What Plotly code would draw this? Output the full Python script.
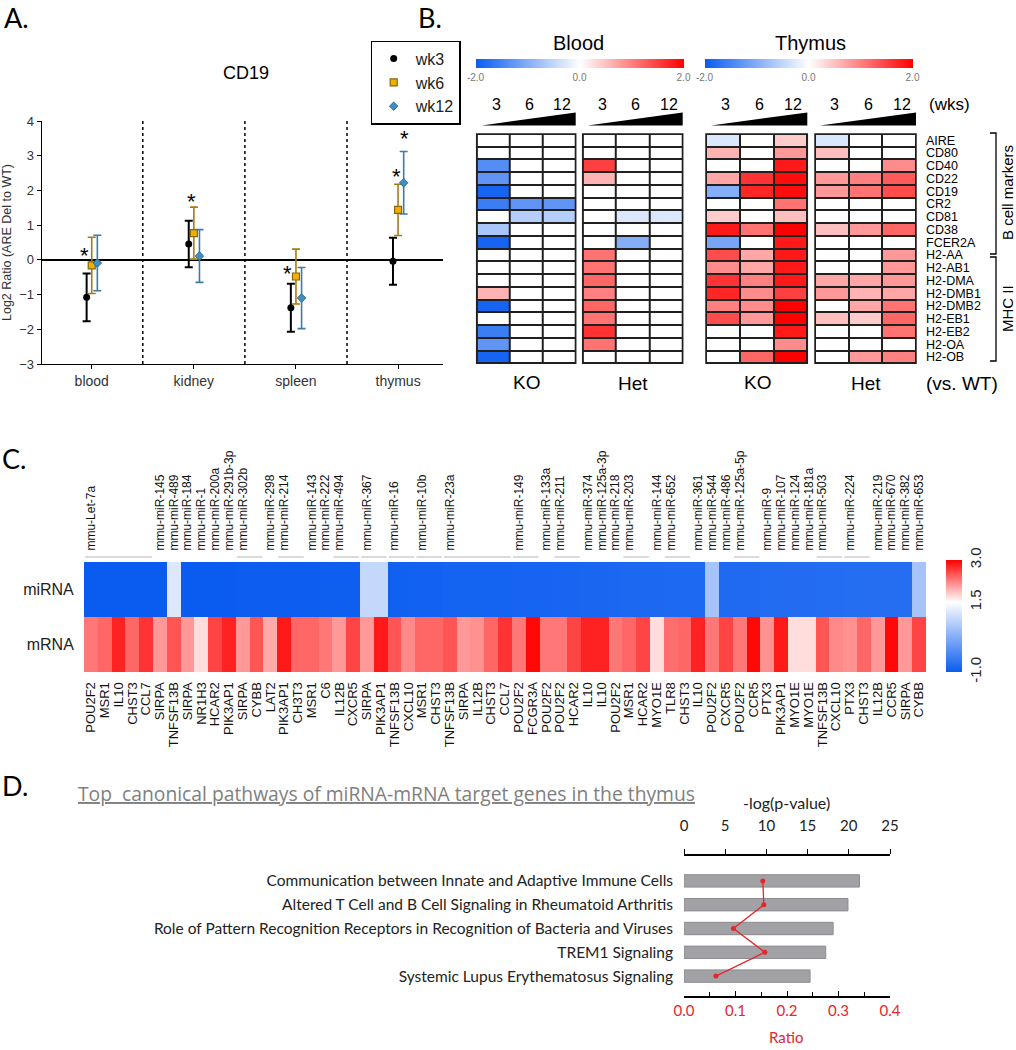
import plotly.graph_objects as go

W, H = 1016, 1050
def fx(p): return p / W
def fy(p): return 1 - p / H

# ---------------- Panel A data ----------------
organs = ["blood", "kidney", "spleen", "thymus"]
wk3_mean = [-1.08, 0.46, -1.38, -0.04]
wk3_err = [0.69, 0.67, 0.69, 0.68]
wk6_mean = [-0.16, 0.77, -0.48, 1.44]
wk6_err = [0.81, 0.75, 0.79, 0.74]
wk12_mean = [-0.09, 0.11, -1.10, 2.22]
wk12_err = [0.80, 0.76, 0.88, 0.90]
star_organ = [0, 1, 2, 3, 3]
star_dx = [-0.07, -0.02, -0.08, -0.02, 0.06]
star_y = [0.28, 1.83, -0.25, 2.55, 3.65]

# ---------------- Panel B data ----------------
genes = ["AIRE", "CD80", "CD40", "CD22", "CD19", "CR2", "CD81", "CD38", "FCER2A",
         "H2-AA", "H2-AB1", "H2-DMA", "H2-DMB1", "H2-DMB2", "H2-EB1", "H2-EB2", "H2-OA", "H2-OB"]
weeks = ["3", "6", "12"]
blood_ko = [[0, 0, 0], [0, 0, 0], [-1.4, 0, 0], [-1.3, 0, 0], [-1.9, 0, 0], [-1.6, -1.3, -1.3],
            [0, -0.6, -0.6], [-0.7, 0, 0], [-1.9, 0, 0], [0, 0, 0], [0, 0, 0], [0, 0, 0],
            [0.6, 0, 0], [-1.9, 0, 0], [0, 0, 0], [-1.6, 0, 0], [-1.3, 0, 0], [-1.9, 0, 0]]
blood_het = [[0, 0, 0], [0, 0, 0], [1.5, 0, 0], [0.6, 0, 0], [0, 0, 0], [0, 0, 0],
             [0, -0.3, -0.3], [0, 0, 0], [0, -1.0, 0], [1.1, 0, 0], [1.1, 0, 0], [1.2, 0, 0],
             [1.0, 0, 0], [1.2, 0, 0], [1.1, 0, 0], [1.6, 0, 0], [1.1, 0, 0], [0, 0, 0]]
thymus_ko = [[-0.3, 0, 0.4], [0.6, 0, 0.8], [0, 0, 1.8], [0.7, 1.6, 1.9], [-1.0, 1.7, 1.9],
             [0, 0, 1.1], [0.4, 0, 0.5], [1.8, 1.1, 2.0], [-1.1, 0, 1.8], [1.4, 0.7, 1.8],
             [0.9, 0.7, 1.8], [1.6, 1.0, 1.8], [1.7, 0.9, 1.5], [1.0, 0.9, 2.0], [1.4, 0.8, 2.0],
             [0, 0, 1.8], [0, 0, 0.9], [0, 1.2, 2.0]]
thymus_het = [[-0.3, 0, 0], [0.5, 0, 0], [0, 0, 0.9], [0.8, 1.0, 1.3], [0.8, 1.1, 1.4],
              [0, 0, 0], [0, 0, 0], [0.5, 0.8, 1.2], [0, 0, 0], [0, 0, 0.8], [0, 0, 0.8],
              [0.7, 0.7, 0.8], [0.8, 0.6, 0.7], [0, 0.7, 1.1], [0.5, 0.4, 1.2], [0, 0, 1.1],
              [0, 0, 0], [0, 0.8, 1.0]]

# ---------------- Panel C data ----------------
mirna_labels = ["mmu-Let-7a", "mmu-miR-145", "mmu-miR-489", "mmu-miR-184", "mmu-miR-1",
                "mmu-miR-200a", "mmu-miR-291b-3p", "mmu-miR-302b", "mmu-miR-298", "mmu-miR-214",
                "mmu-miR-143", "mmu-miR-222", "mmu-miR-494", "mmu-miR-367", "mmu-miR-16",
                "mmu-miR-10b", "mmu-miR-23a", "mmu-miR-149", "mmu-miR-133a", "mmu-miR-211",
                "mmu-miR-374", "mmu-miR-125a-3p", "mmu-miR-218", "mmu-miR-203", "mmu-miR-144",
                "mmu-miR-652", "mmu-miR-361", "mmu-miR-544", "mmu-miR-486", "mmu-miR-125a-5p",
                "mmu-miR-9", "mmu-miR-107", "mmu-miR-124", "mmu-miR-181a", "mmu-miR-503",
                "mmu-miR-224", "mmu-miR-219", "mmu-miR-670", "mmu-miR-382", "mmu-miR-653"]
mirna_span = [5, 1, 1, 1, 1, 1, 1, 2, 1, 2, 1, 1, 2, 2, 2, 2, 5, 2, 1, 2,
              1, 1, 1, 2, 1, 2, 1, 1, 1, 2, 1, 1, 1, 1, 2, 2, 1, 1, 1, 1]
mirna_value = [-1.0, -1.0, 1.15, -1.0, -1.0, -1.0, -1.0, -0.98, -0.98, -0.97,
               -0.97, -0.96, -0.96, 0.9, -0.93, -0.92, -0.9, -0.88, -0.88, -0.86,
               -0.85, -0.84, -0.83, -0.82, -0.82, -0.8, -0.8, 0.6, -0.78, -0.78,
               -0.76, -0.76, -0.75, -0.75, -0.74, -0.73, -0.72, -0.72, -0.72, 0.6]
mrna_labels = ["POU2F2", "MSR1", "IL10", "CHST3", "CCL7", "SIRPA", "TNFSF13B", "SIRPA", "NR1H3",
               "HCAR2", "PIK3AP1", "SIRPA", "CYBB", "LAT2", "PIK3AP1", "CH3T3", "MSR1", "C6",
               "IL12B", "CXCR5", "SIRPA", "PIK3AP1", "TNFSF13B", "CXCL10", "MSR1", "CHST3",
               "TNFSF13B", "SIRPA", "IL12B", "CHST3", "CCL7", "POU2F2", "FCGR3A", "POU2F2",
               "POU2F2", "HCAR2", "IL10", "IL10", "POU2F2", "MSR1", "HCAR2", "MYO1E", "TLR8",
               "CHST3", "IL10", "POU2F2", "CXCR5", "POU2F2", "CCR5", "PTX3", "PIK3AP1", "MYO1E",
               "MYO1E", "TNFSF13B", "CXCL10", "PTX3", "CHST3", "IL12B", "CCR5", "SIRPA", "CYBB"]
mrna_value = [2.3, 2.4, 2.8, 2.4, 2.7, 2.1, 2.5, 2.1, 1.7, 2.6, 2.8, 2.1, 2.5, 2.0, 2.85,
              2.4, 2.4, 2.3, 2.1, 2.6, 2.1, 2.85, 2.5, 2.2, 2.4, 2.4, 2.5, 2.1, 2.15, 2.4,
              2.7, 2.3, 2.95, 2.3, 2.3, 2.6, 2.8, 2.8, 2.3, 2.4, 2.6, 1.7, 2.35, 2.4, 2.8,
              2.3, 2.6, 2.3, 2.95, 2.15, 2.85, 1.7, 1.7, 2.5, 2.2, 2.15, 2.4, 2.1, 2.95, 2.1, 2.6]

# ---------------- Panel D data ----------------
pathways = ["Communication between Innate and Adaptive Immune Cells",
            "Altered T Cell and B Cell Signaling in Rheumatoid Arthritis",
            "Role of Pattern Recognition Receptors in Recognition of Bacteria and Viruses",
            "TREM1 Signaling",
            "Systemic Lupus Erythematosus Signaling"]
neglogp = [21.3, 19.9, 18.1, 17.2, 15.3]
ratio = [0.153, 0.155, 0.096, 0.157, 0.062]

# ====================================================
fig = go.Figure()
FONT = "Liberation Sans"
annotations = []
shapes = []

def note(x, y, text, size, color="black", family=FONT, xanchor="center", angle=0):
    return dict(x=fx(x), y=fy(y), xref="paper", yref="paper", text=text, showarrow=False,
                xanchor=xanchor, yanchor="middle", textangle=angle,
                font=dict(size=size, color=color, family=family))

# ---------------- Panel A ----------------
series = [
    ("wk3", wk3_mean, wk3_err, -0.05, dict(symbol="circle", size=7, color="black"), "black", 2.0),
    ("wk6", wk6_mean, wk6_err, 0.0, dict(symbol="square", size=7, color="#f0b000",
                                          line=dict(color="#8a6408", width=1.2)), "#a97b12", 1.6),
    ("wk12", wk12_mean, wk12_err, 0.055, dict(symbol="diamond", size=6.5, color="#3f8fc0",
                                              line=dict(color="#2b6c95", width=1)), "#3b7ca8", 1.6),
]
for name, mean, err, dx, mk, ecol, ew in series:
    fig.add_trace(go.Scatter(
        x=[i + 1 + dx for i in range(len(organs))], y=mean, mode="markers", name=name,
        marker=mk, error_y=dict(type="data", array=err, color=ecol, thickness=ew, width=4),
        xaxis="x", yaxis="y", showlegend=True))

for o, dx, yv in zip(star_organ, star_dx, star_y):
    annotations.append(dict(x=o + 1 + dx, y=yv, xref="x", yref="y", text="*", showarrow=False,
                            xanchor="center", yanchor="middle",
                            font=dict(size=22, color="black", family=FONT), yshift=-5))
for xv in [1.5, 2.5, 3.5]:
    shapes.append(dict(type="line", xref="x", yref="y domain", x0=xv, x1=xv, y0=0, y1=1,
                       line=dict(color="black", width=1.5, dash="dot")))
annotations.append(note(246, 73, "CD19", 18))

# ---------------- Panel B ----------------
cs_b = [[0, "#0a5cf0"], [0.5, "#ffffff"], [1, "#ff0000"]]
b_panels = [
    ("x2", "y2", blood_ko, (476.7, 575.7), True, 579.5),
    ("x3", "y3", blood_het, (582.7, 682.7), False, None),
    ("x4", "y4", thymus_ko, (706.0, 807.3), True, 808.5),
    ("x5", "y5", thymus_het, (815.0, 916.0), False, None),
]
for xa, ya, z, (a, b), show, cbx in b_panels:
    tr = go.Heatmap(z=z, x=[0, 1, 2], y=genes, xaxis=xa, yaxis=ya, zmin=-2, zmax=2,
                    colorscale=cs_b, xgap=2, ygap=2, showscale=show, hoverinfo="skip")
    if show:
        tr.colorbar = dict(orientation="h", x=fx(cbx), xanchor="center", y=fy(59.5), yanchor="top",
                           thickness=9, len=208, lenmode="pixels", ticks="", tickvals=[-2, 0, 2],
                           ticktext=["-2.0", "0.0", "2.0"], outlinewidth=0, xpad=0, ypad=0,
                           tickfont=dict(size=10, color="#777", family=FONT))
    fig.add_trace(tr)
    shapes.append(dict(type="rect", xref=f"{xa} domain", yref=f"{ya} domain", x0=0, x1=1, y0=0, y1=1,
                       fillcolor="#202020", line=dict(width=0), layer="below"))
    shapes.append(dict(type="rect", xref=f"{xa} domain", yref=f"{ya} domain", x0=0, x1=1, y0=0, y1=1,
                       fillcolor="rgba(0,0,0,0)", line=dict(width=1.5, color="#202020"), layer="above"))
    shapes.append(dict(type="path", xref="paper", yref="paper",
                       path=f"M {fx(a+5)},{fy(125.5)} L {fx(b)},{fy(112.5)} L {fx(b)},{fy(125.5)} Z",
                       fillcolor="black", line=dict(width=0)))
    for k, wk in enumerate(weeks):
        annotations.append(dict(x=k, y=fy(104), xref=xa, yref="paper", text=wk, showarrow=False,
                                xanchor="center", yanchor="middle", xshift=3,
                                font=dict(size=16, color="black", family=FONT)))

annotations += [
    note(578, 43, "Blood", 20),
    note(810, 43, "Thymus", 20),
    note(927, 104, "(wks)", 17, xanchor="left"),
    note(526, 382, "KO", 19),
    note(633, 384, "Het", 19),
    note(757, 382, "KO", 19),
    note(866, 384, "Het", 19),
    note(962, 383, "(vs. WT)", 19),
    note(1007, 193, "B cell markers", 15, angle=-90),
    note(1007, 309, "MHC II", 15, angle=-90),
]
for y0, y1 in [(133, 254), (257, 361)]:
    shapes.append(dict(type="path", xref="paper", yref="paper",
                       path=f"M {fx(990)},{fy(y0)} L {fx(996)},{fy(y0)} L {fx(996)},{fy(y1)} L {fx(990)},{fy(y1)}",
                       line=dict(color="black", width=1.3)))

# ---------------- Panel C ----------------
starts = []
mirna_row = []
pos = 0
for sp, v in zip(mirna_span, mirna_value):
    starts.append(pos)
    mirna_row += [v] * sp
    if sp > 1:
        shapes.append(dict(type="line", xref="x6", yref="paper", x0=pos - 0.42, x1=pos + sp - 1 + 0.42,
                           y0=fy(557), y1=fy(557), line=dict(color="#b5b5b5", width=1)))
    pos += sp
ncol = len(mrna_labels)
cs_c = [[0, "#0a5cf0"], [0.625, "#ffffff"], [1, "#ff0000"]]
fig.add_trace(go.Heatmap(
    z=[mirna_row, mrna_value], x=list(range(ncol)), y=["miRNA", "mRNA"], xaxis="x6", yaxis="y6",
    zmin=-1, zmax=3, colorscale=cs_c, hoverinfo="skip",
    colorbar=dict(x=fx(946), xanchor="left", y=fy(616), yanchor="middle", thickness=16, len=112,
                  lenmode="pixels", tickvals=[-1, 1.5, 3], ticktext=["-1.0", "1.5", "3.0"], ticks="",
                  tickangle=-90, outlinewidth=0, xpad=0, ypad=0,
                  tickfont=dict(size=15, color="#222", family=FONT))))
fig.add_trace(go.Scatter(x=[0], y=["miRNA"], xaxis="x7", yaxis="y6", mode="markers",
                         marker=dict(opacity=0), hoverinfo="skip", showlegend=False))

# ---------------- Panel D ----------------
fig.add_trace(go.Bar(x=neglogp, y=pathways, orientation="h", xaxis="x8", yaxis="y8", width=0.52,
                     marker=dict(color="#a2a2a6", line=dict(color="#8c8c90", width=1)),
                     showlegend=False, hoverinfo="skip"))
fig.add_trace(go.Scatter(x=ratio, y=pathways, xaxis="x9", yaxis="y8", mode="lines+markers",
                         line=dict(color="#e5262b", width=1.3), marker=dict(size=5, color="#e5262b"),
                         showlegend=False, hoverinfo="skip"))

annotations += [
    note(76, 793, "<u>Top\u00a0 canonical pathways of miRNA-mRNA target genes in the thymus</u>",
         19.3, color="#808080", family="Open Sans", xanchor="left"),
    note(786, 802, "-log(p-value)", 16, color="#222", family="Lato"),
    note(786, 1037, "Ratio", 15, color="#e5262b", family="Lato"),
]

for t, x, y in [("A.", 2, 18), ("B.", 416, 18), ("C.", 0, 458), ("D.", 0, 785)]:
    annotations.append(note(x, y, t, 27, family="Lato", xanchor="left"))

# ---------------- Layout ----------------
noax = dict(showgrid=False, zeroline=False, showticklabels=False, ticks="", showline=False)
layout = dict(
    width=W, height=H, margin=dict(l=0, r=0, t=0, b=0, autoexpand=False), autosize=False,
    paper_bgcolor="white", plot_bgcolor="white",
    font=dict(family=FONT, color="#222"),
    legend=dict(x=fx(370.5), y=fy(40.5), xanchor="left", yanchor="top", bordercolor="black",
                borderwidth=1.2, bgcolor="white", font=dict(size=16, color="#222", family=FONT),
                tracegroupgap=0, itemwidth=34),
    xaxis=dict(domain=[fx(41.7), fx(443)], range=[0.51, 4.44], tickvals=[1, 2, 3, 4], ticktext=organs,
               showgrid=False, zeroline=False, showline=True, linecolor="black", linewidth=1.2,
               ticks="outside", ticklen=4, tickcolor="black", tickfont=dict(size=14, color="#333"),
               anchor="y"),
    yaxis=dict(domain=[fy(364), fy(121)], range=[-3, 4], dtick=1, showgrid=False, zeroline=True,
               zerolinecolor="black", zerolinewidth=1.8, showline=True, linecolor="black",
               linewidth=1.2, ticks="outside", ticklen=4, tickcolor="black",
               tickfont=dict(size=13, color="#333"), anchor="x",
               title=dict(text="Log2 Ratio (ARE Del to WT)", font=dict(size=12.5, color="#333"),
                          standoff=6)),
)
for i, (xa, ya, z, (a, b), show, cbx) in enumerate(b_panels):
    n = xa[1:]
    layout[f"xaxis{n}"] = dict(domain=[fx(a), fx(b)], range=[-0.5, 2.5], anchor=ya, **noax)
    yax = dict(domain=[fy(363.3), fy(134)], range=[17.5, -0.5], anchor=xa, **noax)
    if n == "5":
        yax.update(showticklabels=True, side="right", ticklabelstandoff=9,
                   tickmode="array", tickvals=genes, ticktext=genes,
                   tickfont=dict(size=12.5, color="black", family=FONT))
    layout[f"yaxis{n}"] = yax

layout["xaxis6"] = dict(domain=[fx(84), fx(926)], range=[-0.5, ncol - 0.5], anchor="y6",
                        tickvals=list(range(ncol)), ticktext=mrna_labels, tickangle=-90,
                        ticks="outside", ticklen=4, tickcolor="rgba(0,0,0,0)",
                        tickfont=dict(size=13, color="#111"), showgrid=False, zeroline=False,
                        showline=False)
layout["xaxis7"] = dict(overlaying="x6", side="top", anchor="y6", range=[-0.5, ncol - 0.5],
                        tickvals=starts, ticktext=mirna_labels, tickangle=-90, ticks="outside",
                        ticklen=8, tickcolor="rgba(0,0,0,0)", tickfont=dict(size=12, color="#111"),
                        showgrid=False, zeroline=False, showline=False)
layout["yaxis6"] = dict(domain=[fy(672), fy(562)], anchor="x6", autorange="reversed",
                        ticks="outside", ticklen=6, tickcolor="rgba(0,0,0,0)",
                        tickfont=dict(size=16, color="#222"), showgrid=False, zeroline=False,
                        showline=False)
layout["xaxis8"] = dict(domain=[fx(684), fx(890)], range=[0, 25], anchor="free", position=fy(855),
                        side="top", tickvals=[0, 5, 10, 15, 20, 25], showline=True,
                        linecolor="black", linewidth=1.6, ticks="outside", ticklen=5,
                        tickcolor="black", ticklabelstandoff=12,
                        tickfont=dict(size=15, color="#222", family="Lato"),
                        showgrid=False, zeroline=False)
layout["yaxis8"] = dict(domain=[fy(988), fy(869)], anchor="x8", range=[4.5, -0.5], ticks="",
                        ticklabelstandoff=10, tickfont=dict(size=15.5, color="#222", family="Lato"),
                        showgrid=False, zeroline=False, showline=False)
layout["xaxis9"] = dict(overlaying="x8", anchor="free", position=fy(997), side="bottom",
                        range=[0, 0.4], tickvals=[0, 0.1, 0.2, 0.3, 0.4],
                        ticktext=["0.0", "0.1", "0.2", "0.3", "0.4"], showline=True,
                        linecolor="black", linewidth=1.6, ticks="inside", ticklen=5,
                        tickcolor="black", minor=dict(ticks="inside", ticklen=4, dtick=0.05,
                                                      tickcolor="black"),
                        tickfont=dict(size=15, color="#e5262b", family="Lato"),
                        showgrid=False, zeroline=False)
layout["annotations"] = annotations
layout["shapes"] = shapes
fig.update_layout(**layout)
fig.write_html("out.html", config={"displayModeBar": False},
               post_script="document.body.style.margin='0px';document.body.style.overflow='hidden';")
